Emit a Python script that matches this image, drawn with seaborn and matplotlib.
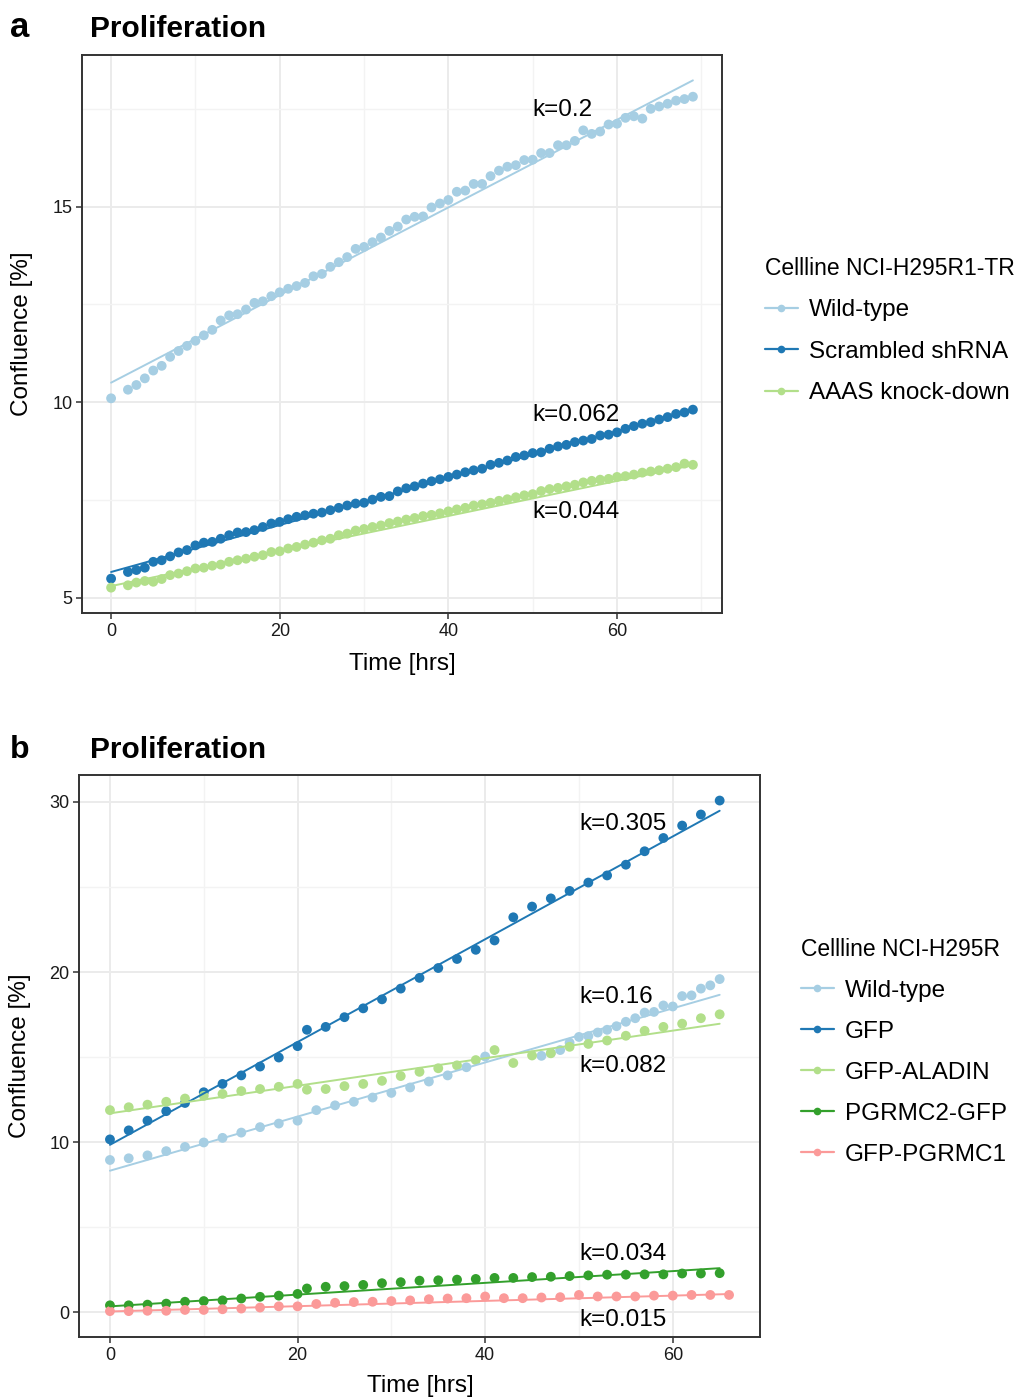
import numpy as np
import pandas as pd
import matplotlib
matplotlib.use("Agg")
import matplotlib.pyplot as plt
import seaborn as sns
from matplotlib.lines import Line2D

sns.set_theme(style="white")
plt.rcParams['font.family'] = ['Liberation Sans', 'DejaVu Sans']
plt.rcParams['text.color'] = '#000000'

# ---- panel a data (NCI-H295R1-TR), hourly, no reading at t=1
times_a = [0, 2, 3, 4, 5, 6, 7, 8, 9, 10, 11, 12, 13, 14, 15, 16, 17, 18, 19, 20,
           21, 22, 23, 24, 25, 26, 27, 28, 29, 30, 31, 32, 33, 34, 35, 36, 37, 38, 39, 40,
           41, 42, 43, 44, 45, 46, 47, 48, 49, 50, 51, 52, 53, 54, 55, 56, 57, 58, 59, 60,
           61, 62, 63, 64, 65, 66, 67, 68, 69]
wild_a = [10.10, 10.32, 10.44, 10.61, 10.81, 10.93, 11.16, 11.31, 11.44, 11.57,
          11.71, 11.85, 12.09, 12.22, 12.25, 12.37, 12.54, 12.58, 12.71, 12.81,
          12.90, 12.97, 13.05, 13.22, 13.28, 13.46, 13.58, 13.71, 13.92, 13.97,
          14.09, 14.21, 14.38, 14.49, 14.67, 14.74, 14.75, 14.98, 15.08, 15.17,
          15.38, 15.41, 15.58, 15.58, 15.78, 15.92, 16.02, 16.06, 16.19, 16.20,
          16.37, 16.37, 16.57, 16.57, 16.68, 16.95, 16.86, 16.92, 17.10, 17.12,
          17.27, 17.31, 17.25, 17.50, 17.56, 17.63, 17.71, 17.75, 17.81]
scrambled_a = [5.49, 5.66, 5.71, 5.77, 5.92, 5.96, 6.06, 6.16, 6.22, 6.34,
               6.41, 6.43, 6.51, 6.60, 6.67, 6.68, 6.73, 6.81, 6.90, 6.94,
               7.01, 7.07, 7.11, 7.15, 7.18, 7.24, 7.30, 7.36, 7.41, 7.43,
               7.51, 7.58, 7.60, 7.72, 7.80, 7.85, 7.92, 7.98, 8.03, 8.09,
               8.15, 8.21, 8.26, 8.30, 8.40, 8.45, 8.51, 8.60, 8.64, 8.70,
               8.72, 8.81, 8.87, 8.91, 8.98, 9.02, 9.06, 9.15, 9.17, 9.23,
               9.32, 9.39, 9.45, 9.49, 9.56, 9.62, 9.70, 9.74, 9.81]
aaas_a = [5.26, 5.32, 5.39, 5.43, 5.41, 5.48, 5.58, 5.62, 5.68, 5.75,
          5.77, 5.82, 5.85, 5.92, 5.96, 6.00, 6.05, 6.09, 6.17, 6.19,
          6.26, 6.30, 6.36, 6.41, 6.47, 6.51, 6.60, 6.64, 6.72, 6.76,
          6.81, 6.85, 6.91, 6.95, 7.00, 7.04, 7.09, 7.12, 7.16, 7.21,
          7.26, 7.30, 7.36, 7.39, 7.43, 7.48, 7.52, 7.57, 7.62, 7.65,
          7.73, 7.78, 7.81, 7.85, 7.89, 7.95, 7.99, 8.02, 8.04, 8.09,
          8.11, 8.15, 8.20, 8.23, 8.26, 8.30, 8.34, 8.43, 8.40]
labels_a = ["Wild-type", "Scrambled shRNA", "AAAS knock-down"]
fit_b0_a = [10.5, 5.66, 5.3]
fit_k_a = [0.112, 0.060, 0.0448]
ktext_a = ["k=0.2", "k=0.062", "k=0.044"]
ktext_y_a = [17.47, 9.67, 7.19]

# ---- panel b data (NCI-H295R)
times_b = [0, 2, 4, 6, 8, 10, 12, 14, 16, 18, 20, 21, 23, 25, 27, 29, 31, 33, 35,
           37, 39, 41, 43, 45, 47, 49, 51, 53, 55, 57, 59, 61, 63, 65]
times_b_wild = [0, 2, 4, 6, 8, 10, 12, 14, 16, 18, 20, 22, 24, 26, 28, 30, 32, 34,
                36, 38, 40, 46, 47, 48, 49, 50, 51, 52, 53, 54, 55, 56, 57, 58, 59,
                60, 61, 62, 63, 64, 65]
times_b_pgrmc1 = [0, 2, 4, 6, 8, 10, 12, 14, 16, 18, 20, 22, 24, 26, 28, 30, 32, 34,
                  36, 38, 40, 42, 44, 46, 48, 50, 52, 54, 56, 58, 60, 62, 64, 66]
wild_b = [8.96, 9.06, 9.23, 9.48, 9.73, 9.99, 10.26, 10.57, 10.89, 11.10, 11.27,
          11.89, 12.17, 12.38, 12.63, 12.90, 13.22, 13.57, 13.93, 14.41, 15.04,
          15.08, 15.25, 15.42, 15.85, 16.19, 16.24, 16.45, 16.61, 16.82, 17.08,
          17.29, 17.62, 17.66, 18.04, 17.98, 18.59, 18.63, 19.03, 19.22, 19.59]
gfp_b = [10.17, 10.70, 11.27, 11.83, 12.31, 12.94, 13.43, 13.93, 14.45, 14.98, 15.65,
         16.61, 16.78, 17.35, 17.87, 18.40, 19.03, 19.66, 20.24, 20.77, 21.31, 21.86,
         23.22, 23.85, 24.33, 24.77, 25.26, 25.68, 26.31, 27.10, 27.88, 28.61, 29.26, 30.08]
aladin_b = [11.89, 12.06, 12.21, 12.38, 12.57, 12.73, 12.84, 13.01, 13.13, 13.26, 13.43,
            13.09, 13.13, 13.30, 13.43, 13.61, 13.89, 14.14, 14.35, 14.52, 14.83, 15.42,
            14.66, 15.10, 15.23, 15.61, 15.78, 15.98, 16.26, 16.55, 16.78, 16.97, 17.29, 17.52]
pgrmc2_b = [0.42, 0.42, 0.46, 0.52, 0.63, 0.67, 0.71, 0.82, 0.92, 0.99, 1.09,
            1.41, 1.51, 1.55, 1.62, 1.72, 1.78, 1.87, 1.89, 1.93, 1.97, 2.03,
            2.03, 2.08, 2.10, 2.14, 2.18, 2.22, 2.22, 2.24, 2.24, 2.29, 2.29, 2.31]
pgrmc1_b = [0.08, 0.08, 0.10, 0.10, 0.15, 0.15, 0.19, 0.23, 0.29, 0.36, 0.36,
            0.50, 0.57, 0.61, 0.63, 0.67, 0.71, 0.78, 0.82, 0.84, 0.94, 0.84,
            0.84, 0.88, 0.90, 1.03, 0.94, 0.94, 0.94, 0.99, 0.99, 1.03, 1.03, 1.03]
labels_b = ["Wild-type", "GFP", "GFP-ALADIN", "PGRMC2-GFP", "GFP-PGRMC1"]
fit_b0_b = [8.33, 9.85, 11.7, 0.36, 0.06]
fit_k_b = [0.159, 0.302, 0.081, 0.0345, 0.0155]
ktext_b = ["k=0.305", "k=0.16", "k=0.082", "k=0.034", "k=0.015"]
ktext_y_b = [28.7, 18.53, 14.47, 3.41, -0.47]

paired = sns.color_palette("Paired")
colors_a = [paired[0], paired[1], paired[2]]
colors_b = [paired[0], paired[1], paired[2], paired[3], paired[4]]


def long_df(times_list, values_list, labels):
    parts = []
    for t, v, lab in zip(times_list, values_list, labels):
        parts.append(pd.DataFrame({"time": t, "conf": v, "line": lab}))
    return pd.concat(parts, ignore_index=True)


def fit_df(times_list, b0s, ks, labels):
    rows = []
    for t, b0, k, lab in zip(times_list, b0s, ks, labels):
        for tt in (min(t), max(t)):
            rows.append({"time": tt, "conf": b0 + k * tt, "line": lab})
    return pd.DataFrame(rows)


df_a = long_df([times_a] * 3, [wild_a, scrambled_a, aaas_a], labels_a)
fit_a = fit_df([times_a] * 3, fit_b0_a, fit_k_a, labels_a)
df_b = long_df([times_b_wild, times_b, times_b, times_b, times_b_pgrmc1],
               [wild_b, gfp_b, aladin_b, pgrmc2_b, pgrmc1_b], labels_b)
fit_b = fit_df([times_b_wild, times_b, times_b, times_b, times_b_pgrmc1],
               fit_b0_b, fit_k_b, labels_b)

W, H = 1035, 1398
fig = plt.figure(figsize=(W / 100, H / 100), dpi=100)
ax_a = fig.add_axes([82 / W, 1 - 613 / H, 640 / W, 558 / H])
ax_b = fig.add_axes([79 / W, 1 - 1337 / H, 681 / W, 562 / H])


def expand(lo, hi):
    pad = (hi - lo) * 0.05
    return lo - pad, hi + pad


def draw_panel(ax, df, fit, labels, colors, yticks, yminor, xminor, ktext, ktext_y):
    pal = dict(zip(labels, colors))
    sns.scatterplot(data=df, x="time", y="conf", hue="line", palette=pal, s=50,
                    edgecolor="none", legend=False, ax=ax, zorder=2)
    sns.lineplot(data=fit, x="time", y="conf", hue="line", palette=pal, lw=1.4,
                 estimator=None, legend=False, ax=ax, zorder=3)
    allx = pd.concat([df["time"], fit["time"]])
    ally = pd.concat([df["conf"], fit["conf"]])
    ax.set_xlim(*expand(allx.min(), allx.max()))
    ax.set_ylim(*expand(ally.min(), ally.max()))
    ax.set_xticks([0, 20, 40, 60])
    ax.set_yticks(yticks)
    ax.set_xticks(xminor, minor=True)
    ax.set_yticks(yminor, minor=True)
    ax.grid(which="major", color="#EBEBEB", lw=1.4)
    ax.grid(which="minor", color="#F3F3F3", lw=1.0)
    ax.set_axisbelow(True)
    for s in ax.spines.values():
        s.set_color("#333333")
        s.set_linewidth(1.4)
    ax.tick_params(which="major", length=4, width=1.1, color="#333333",
                   labelsize=13, labelcolor="#1a1a1a", pad=3,
                   bottom=True, left=True)
    ax.tick_params(which="minor", length=0)
    ax.set_xlabel("")
    ax.set_ylabel("")
    for txt, y in zip(ktext, ktext_y):
        ax.text(50, y, txt, fontsize=17.5, ha="left", va="center", color="#000000")


draw_panel(ax_a, df_a, fit_a, labels_a, colors_a, [5, 10, 15], [7.5, 12.5, 17.5],
           [10, 30, 50, 70], ktext_a, ktext_y_a)
draw_panel(ax_b, df_b, fit_b, labels_b, colors_b, [0, 10, 20, 30], [5, 15, 25],
           [10, 30, 50], ktext_b, ktext_y_b)

# panel letters, titles, axis labels
fig.text(10 / W, 1 - 37 / H, "a", fontsize=25, weight="bold", va="baseline")
fig.text(90 / W, 1 - 37 / H, "Proliferation", fontsize=21.5, weight="bold", va="baseline")
fig.text(10 / W, 1 - 758 / H, "b", fontsize=23, weight="bold", va="baseline")
fig.text(90 / W, 1 - 758 / H, "Proliferation", fontsize=21.5, weight="bold", va="baseline")

fig.text(402 / W, 1 - 664 / H, "Time [hrs]", fontsize=17.5, ha="center", va="center")
fig.text(420 / W, 1 - 1386 / H, "Time [hrs]", fontsize=17.5, ha="center", va="center")
fig.text(22 / W, 1 - 334 / H, "Confluence [%]", fontsize=17.5, ha="center",
         va="center", rotation=90)
fig.text(20 / W, 1 - 1056 / H, "Confluence [%]", fontsize=17.5, ha="center",
         va="center", rotation=90)


def make_legend(labels, colors, title, anchor, spacing):
    handles = [Line2D([0], [0], color=c, lw=1.6, marker="o", markersize=5.5,
                      markeredgecolor="none") for c in colors]
    leg = fig.legend(handles=handles, labels=labels, title=title, loc="upper left",
                     bbox_to_anchor=anchor, frameon=False, fontsize=17.5,
                     title_fontsize=16.5, handlelength=1.35, handletextpad=0.45,
                     labelspacing=spacing, borderpad=0, borderaxespad=0,
                     alignment="left")
    return leg


make_legend(labels_a, colors_a, "Cellline NCI-H295R1-TR", (765 / W, 1 - 257 / H), 0.80)
make_legend(labels_b, colors_b, "Cellline NCI-H295R", (801 / W, 1 - 938 / H), 0.78)

fig.savefig("out.png", dpi=100)
